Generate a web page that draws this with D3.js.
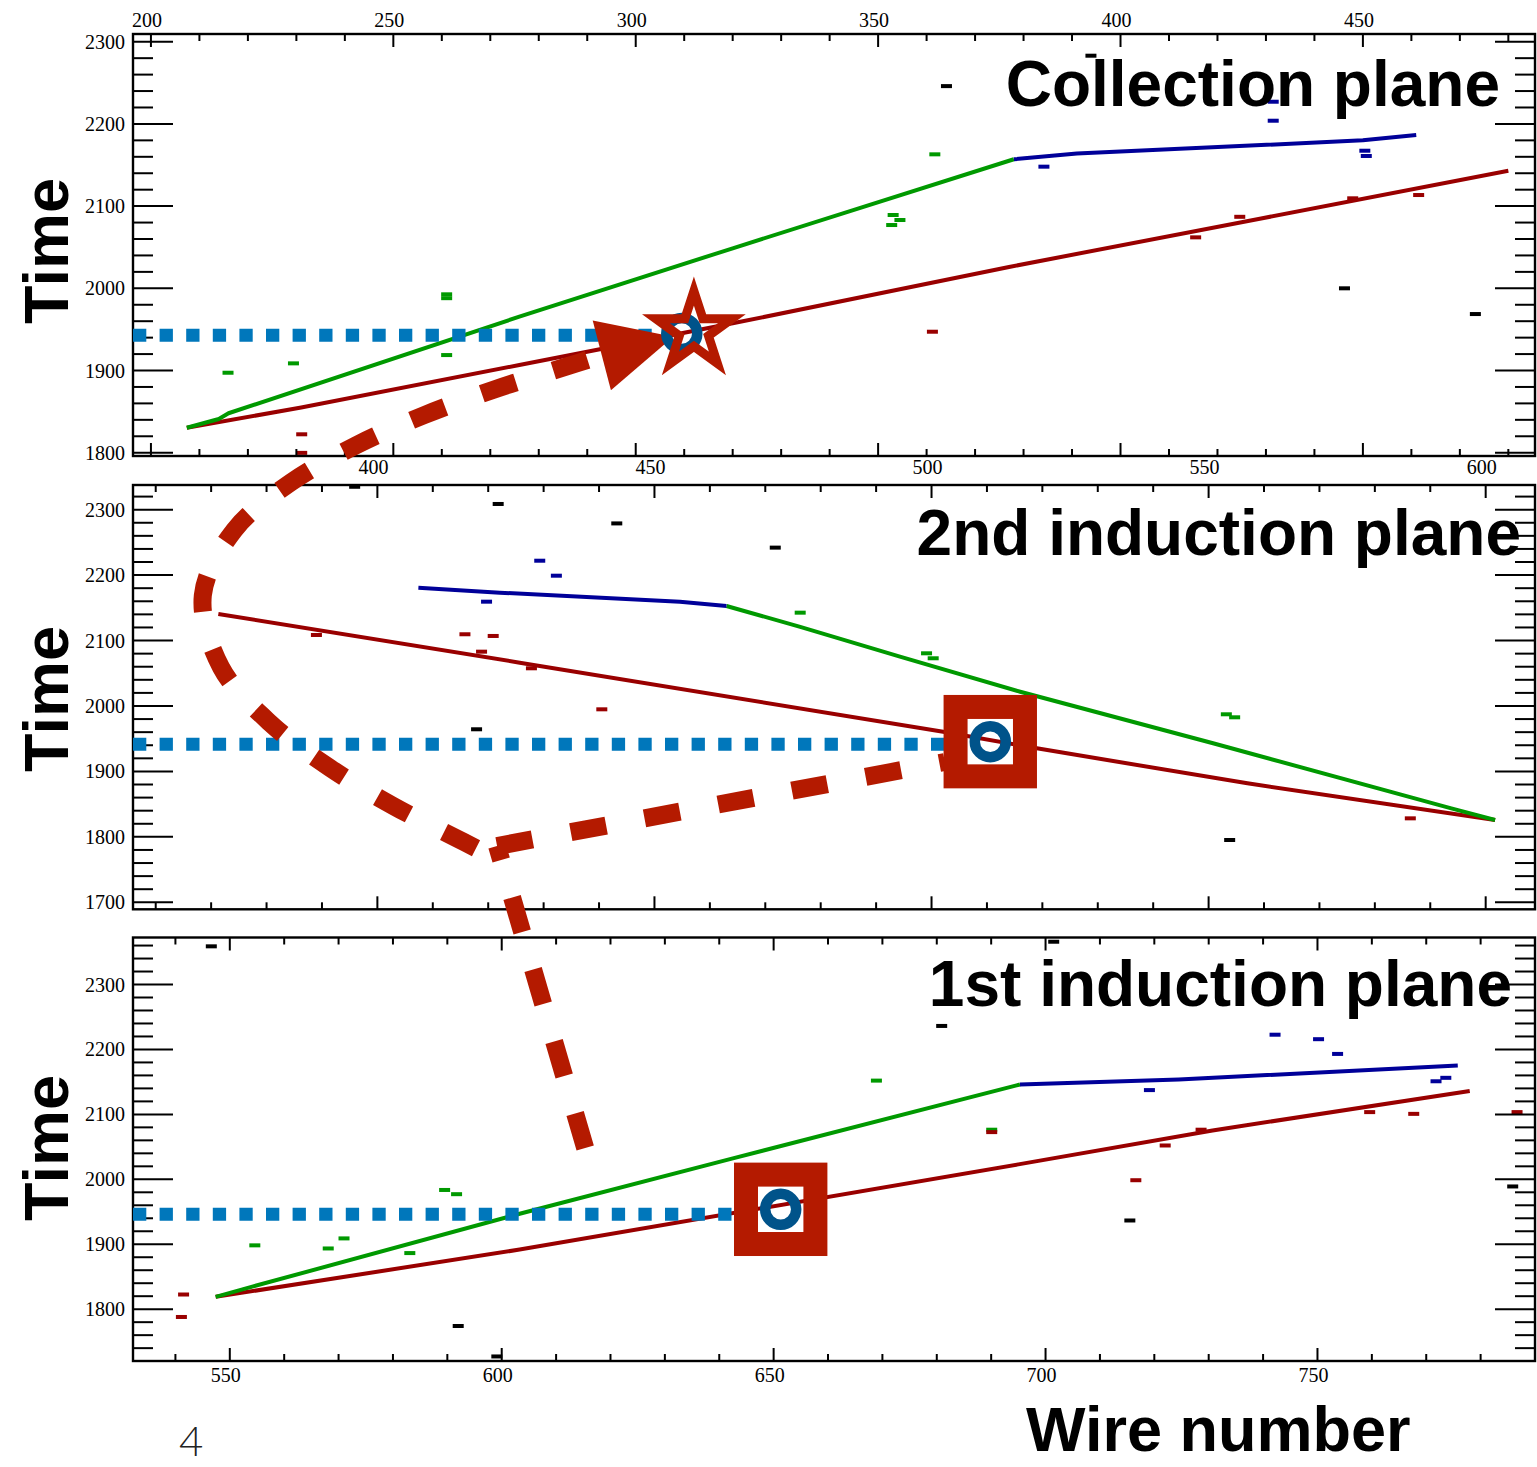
<!DOCTYPE html>
<html>
<head>
<meta charset="utf-8">
<script src="https://cdn.jsdelivr.net/npm/d3@7"></script>
<style>
  body { margin: 0; background: #fff; }
  svg { display: block; }
</style>
</head>
<body>
<div id="chart"></div>
<script>
// Event display: time vs wire number on the three wire planes

// axis ranges of each plane
var collWires = [196.3, 485.5];
var collTimes = [1796, 2309.4];
var ind2Wires = [355.9, 608.9];
var ind2Times = [1689.3, 2337.7];
var ind1Wires = [532.2, 790.0];
var ind1Times = [1720.2, 2372.4];

// tick labels
var collWireLabels = [200, 250, 300, 350, 400, 450];
var ind2WireLabels = [400, 450, 500, 550, 600];
var ind1WireLabels = [550, 600, 650, 700, 750];
var collTimeLabels = [1800, 1900, 2000, 2100, 2200, 2300];
var ind2TimeLabels = [1700, 1800, 1900, 2000, 2100, 2200, 2300];
var ind1TimeLabels = [1800, 1900, 2000, 2100, 2200, 2300];

// reconstructed tracks, [wire, time]
var collRed = [[207.4, 1830.4], [231, 1855], [276, 1906.7], [320, 1957.4], [377, 2026], [429, 2085], [480, 2143]];
var collGreen = [[207.4, 1830.4], [214, 1841], [216, 1848], [276, 1965.5], [320, 2048.7], [378, 2157]];
var collBlue = [[378, 2157], [391, 2164], [450, 2180], [461, 2186.5]];

var ind2Red = [[371.3, 2140.6], [425.7, 2066.2], [502.1, 1960.7], [519, 1935.3], [557, 1881.8], [601.7, 1825.8]];
var ind2Green = [[463, 2152.8], [476.3, 2121], [494.3, 2075.3], [516, 2021.8], [550.8, 1943], [593.8, 1843.6], [601.7, 1825.8]];
var ind2Blue = [[407.4, 2180.8], [422.1, 2173.1], [454.6, 2159.4], [463, 2152.8]];

var ind1Red = [[547.4, 1819], [603.3, 1891.8], [695, 2023], [730.7, 2075.3], [778, 2135.9]];
var ind1Green = [[547.4, 1819], [554.3, 1835.1], [603.3, 1946.9], [642.5, 2032.2], [695.3, 2146]];
var ind1Blue = [[695.3, 2146], [724.5, 2153.7], [775.8, 2175.3]];

// loose hits, [wire, time, cluster]  (g, r, b = track clusters, k = unassigned)
var collHits = [
  [215.9, 1897.3, "g"], [229.4, 1908.7, "g"], [261, 1992.7, "g"], [261, 1988, "g"], [261, 1918.8, "g"],
  [231.1, 1822.4, "r"], [231.1, 1799.8, "r"],
  [364.1, 2246, "k"], [361.7, 2163, "g"], [353.1, 2089.2, "g"], [354.5, 2083.1, "g"], [352.8, 2077, "g"],
  [361.2, 1947.2, "r"],
  [393.9, 2283, "k"], [431.5, 2227, "b"], [431.5, 2203.9, "b"], [384.2, 2148, "b"], [450.4, 2167.4, "b"], [450.7, 2161, "b"],
  [424.6, 2087, "r"], [415.5, 2062, "r"], [447.9, 2109.5, "r"], [461.5, 2113.5, "r"],
  [446.2, 2000, "k"], [473.2, 1968.7, "k"]
];
var ind2Hits = [
  [395.9, 2335, "k"], [421.8, 2308.7, "k"], [419.7, 2159.4, "b"], [389, 2108.5, "r"], [415.8, 2109.6, "r"],
  [420.9, 2107, "r"], [418.8, 2083, "r"], [417.9, 1964.4, "k"],
  [443.2, 2279, "k"], [471.8, 2242, "k"], [429.3, 2222, "b"], [432.3, 2199.1, "b"], [476.3, 2142.6, "g"],
  [427.8, 2057.6, "r"], [440.5, 1994.9, "r"], [499.1, 2080.5, "g"], [500.3, 2072.9, "g"],
  [553.2, 1987.3, "g"], [554.7, 1982.7, "g"], [586.4, 1828.3, "r"], [553.8, 1795.2, "k"]
];
var ind1Hits = [
  [546.6, 2358.8, "k"], [541.5, 1822.6, "r"], [541.1, 1788, "r"], [554.6, 1898.3, "g"], [568.1, 1893.5, "g"],
  [571, 1909, "g"], [583.1, 1886.4, "g"], [589.5, 1983.6, "g"], [591.7, 1977.1, "g"], [592, 1774.1, "k"], [599.1, 1727.2, "k"],
  [680.9, 2236.2, "k"], [668.9, 2152, "g"], [690.1, 2076.4, "g"], [690.1, 2072.7, "r"],
  [701.5, 2365.9, "k"], [742.2, 2222.7, "b"], [750.2, 2215.8, "b"], [753.7, 2193.1, "b"], [719.1, 2137.4, "b"],
  [771.8, 2151, "b"], [773.6, 2156.3, "b"],
  [716.6, 1998.6, "r"], [715.5, 1936.6, "k"], [722, 2052.1, "r"], [728.6, 2076.4, "r"], [759.6, 2103.5, "r"],
  [767.7, 2100.8, "r"], [786.7, 2103.5, "r"], [785.9, 1989, "k"]
];

// matched point in each plane [wire, time] and the dotted guide [end wire, time]
var collPoint = [309.5, 1945];
var collStar = [312, 1948];
var collGuide = [303.3, 1943];
var ind2Point = [510.6, 1945.5];
var ind2Guide = [502.7, 1941.6];
var ind1Point = [651.3, 1953.8];
var ind1Guide = [642.6, 1946.3];

// dashed pointer, given in the 2nd induction plane's coordinates
var pointerDown = [[437.5, 1324.5], [421.6, 1786]];
var pointerRight = [[421.6, 1786], [502.4, 1914.4]];
var pointerUp = [[417.8, 1782.7], [414.9, 1795.2], [402.9, 1847.1], [391.4, 1905.7], [380.6, 1974.3],
  [371.8, 2058.8], [368.5, 2168.9], [374.2, 2269], [384.4, 2341.6], [396.1, 2398.1], [408.4, 2444.3],
  [421.1, 2483.7], [433.9, 2518.1], [440.5, 2535.8]];
var pointerTip = [453.4, 2564.4];

var width = 1537;
var height = 1467;
var frameLeft = 133;
var frameRight = 1535;

var colors = {g: "#009900", r: "#990000", b: "#000099", k: "#000000"};
var markRed = "#b41a00";
var ringBlue = "#00538a";
var guideBlue = "#0077bb";

var svg = d3.select("#chart").append("svg")
  .attr("width", width)
  .attr("height", height);

var panels = [
  {title: "Collection plane", top: 34, bottom: 456, wires: collWires, times: collTimes,
   wireLabels: collWireLabels, timeLabels: collTimeLabels, labelY: 20,
   titleX: 1500, titleY: 106, timeY: 251,
   tracks: [[collRed, "r"], [collGreen, "g"], [collBlue, "b"]], hits: collHits, guide: collGuide},
  {title: "2nd induction plane", top: 485, bottom: 909.3, wires: ind2Wires, times: ind2Times,
   wireLabels: ind2WireLabels, timeLabels: ind2TimeLabels, labelY: 467.3,
   titleX: 1521, titleY: 555, timeY: 699,
   tracks: [[ind2Red, "r"], [ind2Green, "g"], [ind2Blue, "b"]], hits: ind2Hits, guide: ind2Guide},
  {title: "1st induction plane", top: 937.5, bottom: 1361, wires: ind1Wires, times: ind1Times,
   wireLabels: ind1WireLabels, timeLabels: ind1TimeLabels, labelY: 1375,
   titleX: 1512, titleY: 1006, timeY: 1148,
   tracks: [[ind1Red, "r"], [ind1Green, "g"], [ind1Blue, "b"]], hits: ind1Hits, guide: ind1Guide}
];

var layerPanels = svg.append("g");
var layerGuides = svg.append("g");
var layerPointer = svg.append("g");
var layerMarks = svg.append("g");
var layerText = svg.append("g");

panels.forEach(function(p, i) {
  p.x = d3.scaleLinear().domain(p.wires).range([frameLeft, frameRight]);
  p.y = d3.scaleLinear().domain(p.times).range([p.bottom, p.top]);

  var g = layerPanels.append("g");

  // clip tracks and hits to the frame
  g.append("clipPath").attr("id", "clip" + i)
    .append("rect")
    .attr("x", frameLeft).attr("y", p.top)
    .attr("width", frameRight - frameLeft).attr("height", p.bottom - p.top);

  var inner = g.append("g").attr("clip-path", "url(#clip" + i + ")");

  var line = d3.line()
    .x(function(d) { return p.x(d[0]); })
    .y(function(d) { return p.y(d[1]); });

  inner.selectAll(".track")
    .data(p.tracks)
    .enter().append("path")
    .attr("class", "track")
    .attr("d", function(d) { return line(d[0]); })
    .attr("fill", "none")
    .attr("stroke", function(d) { return colors[d[1]]; })
    .attr("stroke-width", 4)
    .attr("stroke-linejoin", "round");

  inner.selectAll(".hit")
    .data(p.hits)
    .enter().append("rect")
    .attr("class", "hit")
    .attr("x", function(d) { return p.x(d[0]) - 5.5; })
    .attr("y", function(d) { return p.y(d[1]) - 2; })
    .attr("width", 11)
    .attr("height", 4)
    .attr("fill", function(d) { return colors[d[2]]; });

  // ticks: wire every 10 (long every 50), time every 20 (long every 100)
  var xt = d3.range(Math.ceil(p.wires[0] / 10) * 10, p.wires[1], 10);
  var yt = d3.range(Math.ceil(p.times[0] / 20) * 20, p.times[1], 20);

  var ticks = g.append("g").attr("stroke", "#000").attr("stroke-width", 2);
  xt.forEach(function(v) {
    var len = v % 50 === 0 ? 13 : 7;
    var xx = p.x(v);
    ticks.append("line").attr("x1", xx).attr("x2", xx).attr("y1", p.top).attr("y2", p.top + len);
    ticks.append("line").attr("x1", xx).attr("x2", xx).attr("y1", p.bottom).attr("y2", p.bottom - len);
  });
  yt.forEach(function(v) {
    var len = v % 100 === 0 ? 40 : 20;
    var yy = p.y(v);
    ticks.append("line").attr("x1", frameLeft).attr("x2", frameLeft + len).attr("y1", yy).attr("y2", yy);
    ticks.append("line").attr("x1", frameRight).attr("x2", frameRight - len).attr("y1", yy).attr("y2", yy);
  });

  g.append("rect")
    .attr("x", frameLeft).attr("y", p.top)
    .attr("width", frameRight - frameLeft).attr("height", p.bottom - p.top)
    .attr("fill", "none")
    .attr("stroke", "#000")
    .attr("stroke-width", 2.4);

  // tick labels
  g.selectAll(".xl")
    .data(p.wireLabels)
    .enter().append("text")
    .attr("class", "xl")
    .attr("x", function(d) { return p.x(d) - 4; })
    .attr("y", p.labelY)
    .attr("dy", "0.35em")
    .attr("text-anchor", "middle")
    .style("font-family", "'Liberation Serif', 'Times New Roman', serif")
    .style("font-size", "20px")
    .text(function(d) { return d; });

  g.selectAll(".yl")
    .data(p.timeLabels)
    .enter().append("text")
    .attr("class", "yl")
    .attr("x", 125)
    .attr("y", function(d) { return p.y(d); })
    .attr("dy", "0.35em")
    .attr("text-anchor", "end")
    .style("font-family", "'Liberation Serif', 'Times New Roman', serif")
    .style("font-size", "20px")
    .text(function(d) { return d; });

  // dotted guide at the matched time
  layerGuides.append("line")
    .attr("x1", frameLeft)
    .attr("x2", p.x(p.guide[0]))
    .attr("y1", p.y(p.guide[1]))
    .attr("y2", p.y(p.guide[1]))
    .attr("stroke", guideBlue)
    .attr("stroke-width", 13)
    .attr("stroke-dasharray", "13.3,13.3");

  // plane name and axis title
  layerText.append("text")
    .attr("x", p.titleX)
    .attr("y", p.titleY)
    .attr("text-anchor", "end")
    .style("font-family", "'Liberation Sans', Arial, sans-serif")
    .style("font-weight", "bold")
    .style("font-size", "64px")
    .text(p.title);

  layerText.append("text")
    .attr("transform", "translate(68," + p.timeY + ") rotate(-90)")
    .attr("text-anchor", "middle")
    .style("font-family", "'Liberation Sans', Arial, sans-serif")
    .style("font-weight", "bold")
    .style("font-size", "63px")
    .text("Time");
});

var coll = panels[0], ind2 = panels[1], ind1 = panels[2];

// dashed pointer between the planes
var pline = d3.line()
  .x(function(d) { return ind2.x(d[0]); })
  .y(function(d) { return ind2.y(d[1]); });

[pointerDown, pointerRight].forEach(function(pts) {
  layerPointer.append("path")
    .attr("d", pline(pts))
    .attr("fill", "none")
    .attr("stroke", markRed)
    .attr("stroke-width", 18)
    .attr("stroke-dasharray", "36,39");
});

layerPointer.append("path")
  .attr("d", pline.curve(d3.curveCatmullRom.alpha(0.5))(pointerUp))
  .attr("fill", "none")
  .attr("stroke", markRed)
  .attr("stroke-width", 18)
  .attr("stroke-dasharray", "36,39");

// arrow head
var base = pointerUp[pointerUp.length - 1];
var bx = ind2.x(base[0]), by = ind2.y(base[1]);
var tx = ind2.x(pointerTip[0]), ty = ind2.y(pointerTip[1]);
var len = Math.hypot(tx - bx, ty - by);
var px = -(ty - by) / len * 36, py = (tx - bx) / len * 36;
layerPointer.append("path")
  .attr("d", "M" + tx + "," + ty + "L" + (bx + px) + "," + (by + py) + "L" + (bx - px) + "," + (by - py) + "Z")
  .attr("fill", markRed);

// squares and rings at the matched points
[[ind2, ind2Point], [ind1, ind1Point]].forEach(function(d) {
  layerMarks.append("rect")
    .attr("x", d[0].x(d[1][0]) - 34.7)
    .attr("y", d[0].y(d[1][1]) - 34.7)
    .attr("width", 69.4)
    .attr("height", 69.4)
    .attr("fill", "none")
    .attr("stroke", markRed)
    .attr("stroke-width", 24);
});

[[coll, collPoint], [ind2, ind2Point], [ind1, ind1Point]].forEach(function(d) {
  layerMarks.append("circle")
    .attr("cx", d[0].x(d[1][0]))
    .attr("cy", d[0].y(d[1][1]))
    .attr("r", 15.5)
    .attr("fill", "none")
    .attr("stroke", ringBlue)
    .attr("stroke-width", 10.5);
});

// star on the collection plane
var sx = coll.x(collStar[0]), sy = coll.y(collStar[1]);
var starPts = d3.range(10).map(function(k) {
  var r = k % 2 === 0 ? 40 : 15.3;
  var a = Math.PI * k / 5;
  return [sx + r * Math.sin(a), sy - r * Math.cos(a)];
});
layerMarks.append("path")
  .attr("d", d3.line()(starPts) + "Z")
  .attr("fill", "none")
  .attr("stroke", markRed)
  .attr("stroke-width", 9)
  .attr("stroke-miterlimit", 10);

// bottom texts
layerText.append("text")
  .attr("x", 1026)
  .attr("y", 1451)
  .style("font-family", "'Liberation Sans', Arial, sans-serif")
  .style("font-weight", "bold")
  .style("font-size", "63px")
  .text("Wire number");

layerText.append("text")
  .attr("x", 179)
  .attr("y", 1456)
  .style("font-family", "Lato, 'Open Sans', sans-serif")
  .style("font-weight", "300")
  .style("font-size", "42px")
  .style("fill", "#222")
  .text("4");
</script>
</body>
</html>
